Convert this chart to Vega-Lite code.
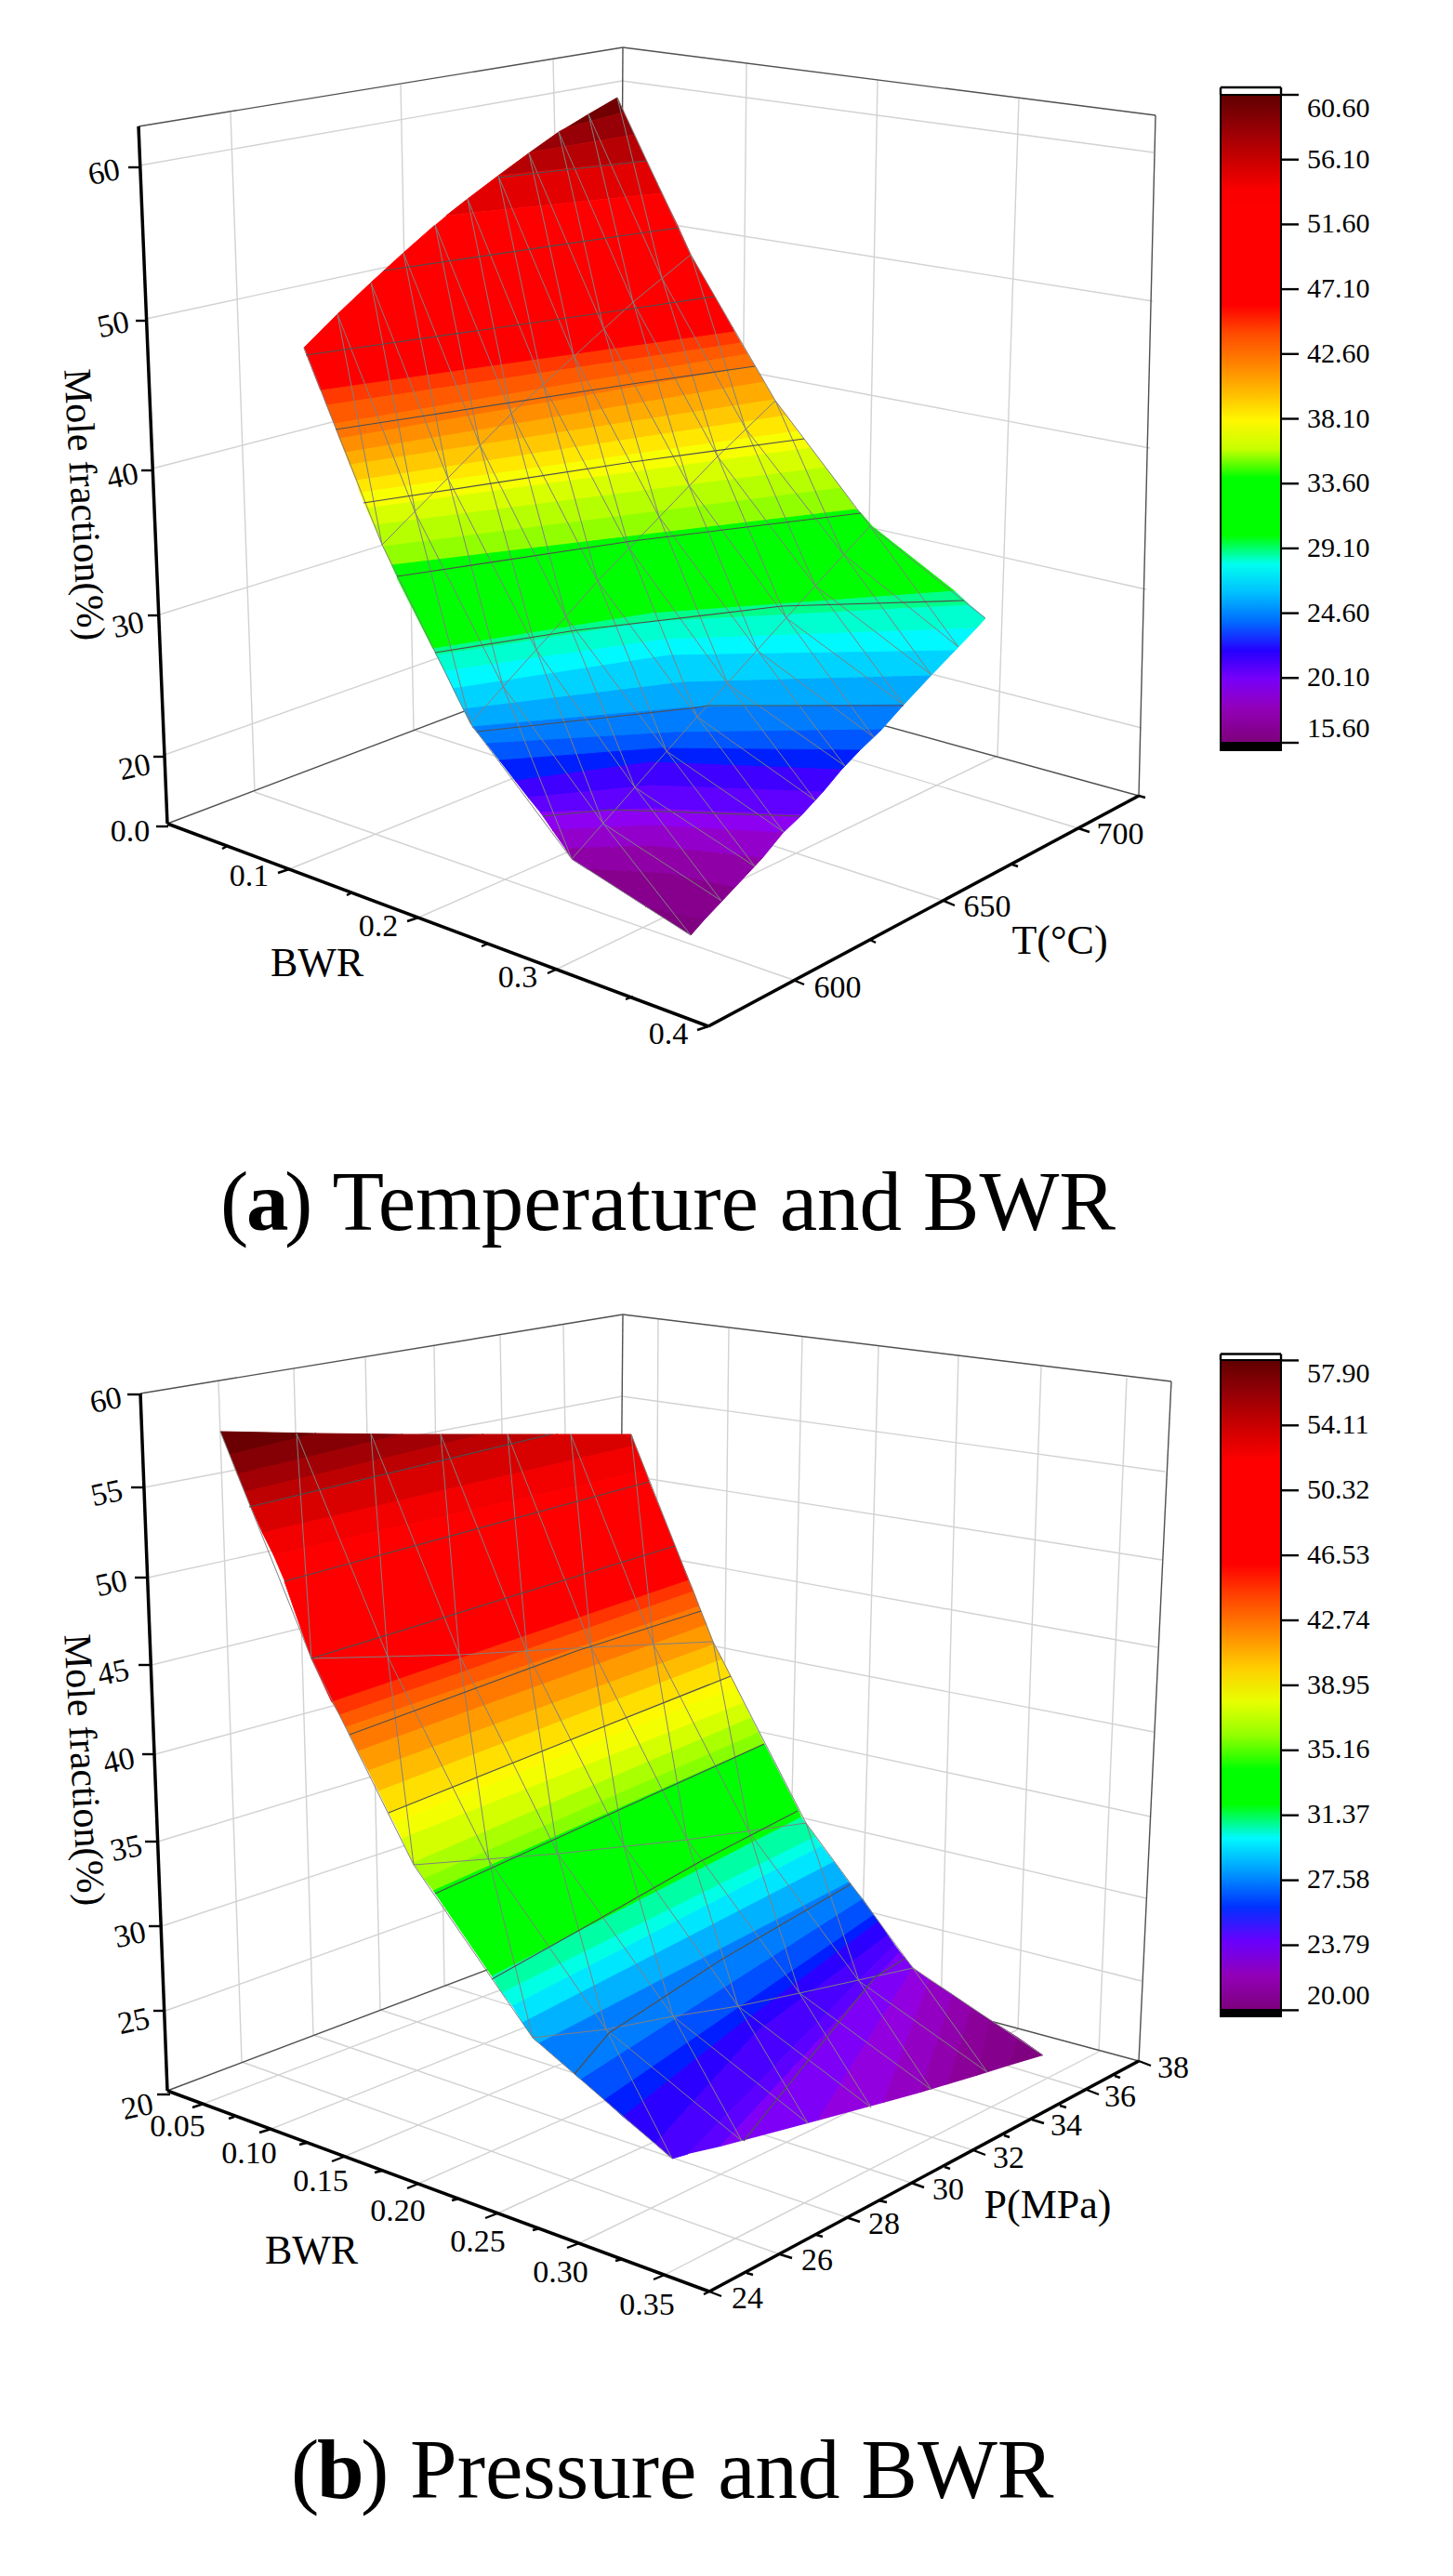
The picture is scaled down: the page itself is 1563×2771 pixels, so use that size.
{"$schema":"https://vega.github.io/schema/vega-lite/v6.json","autosize":"none","padding":0,"width":1563,"height":2771,"background":"white","config":{"view":{"stroke":null}},
"encoding":{"x":{"field":"x","type":"quantitative","axis":null,"scale":{"domain":[0,1563],"nice":false,"zero":false}},"y":{"field":"y","type":"quantitative","axis":null,"scale":{"domain":[0,2771],"reverse":true,"nice":false,"zero":false}}},
"resolve":{"scale":{"fill":"independent","stroke":"independent"}},
"layer":[
{"mark":{"type":"rule","stroke":"#d2d2d2","strokeWidth":1.4},"encoding":{"x2":{"field":"x2"},"y2":{"field":"y2"}},"data":{"values":[
{"x":248,"y":121,"x2":274,"y2":852},{"x":431,"y":91,"x2":445,"y2":785},{"x":595,"y":64,"x2":610,"y2":724},{"x":803,"y":68,"x2":796,"y2":738},{"x":944,"y":86,"x2":931,"y2":776},{"x":1096,"y":106,"x2":1073,"y2":813},
{"x":150,"y":178,"x2":669,"y2":87},{"x":157,"y":343,"x2":668,"y2":233},{"x":164,"y":504,"x2":667,"y2":374},{"x":172,"y":661,"x2":666,"y2":507},{"x":177,"y":812,"x2":665,"y2":639},
{"x":669,"y":87,"x2":1241,"y2":164},{"x":668,"y":233,"x2":1240,"y2":324},{"x":667,"y":374,"x2":1237,"y2":482},{"x":666,"y":507,"x2":1233,"y2":634},{"x":665,"y":639,"x2":1228,"y2":783},
{"x":311,"y":935,"x2":796,"y2":738},{"x":450,"y":987,"x2":931,"y2":776},{"x":600,"y":1042,"x2":1073,"y2":813},{"x":853,"y":1054,"x2":274,"y2":852},{"x":1015,"y":969,"x2":445,"y2":785},{"x":1160,"y":891,"x2":610,"y2":724},
{"x":235,"y":1486,"x2":260,"y2":2218},{"x":316,"y":1472,"x2":337,"y2":2189},{"x":393,"y":1459,"x2":409,"y2":2162},{"x":467,"y":1448,"x2":478,"y2":2135},{"x":538,"y":1436,"x2":551,"y2":2107},{"x":606,"y":1424,"x2":617,"y2":2081},
{"x":708,"y":1419,"x2":704,"y2":2077},{"x":784,"y":1429,"x2":776,"y2":2096},{"x":863,"y":1438,"x2":848,"y2":2116},{"x":945,"y":1448,"x2":926,"y2":2137},{"x":1031,"y":1457,"x2":1012,"y2":2163},{"x":1120,"y":1470,"x2":1095,"y2":2183},{"x":1212,"y":1482,"x2":1182,"y2":2207},
{"x":155,"y":1600,"x2":669,"y2":1502},{"x":159,"y":1697,"x2":668,"y2":1586},{"x":163,"y":1791,"x2":668,"y2":1667},{"x":167,"y":1887,"x2":667,"y2":1751},{"x":170,"y":1981,"x2":666,"y2":1830},{"x":174,"y":2072,"x2":665,"y2":1909},{"x":178,"y":2163,"x2":665,"y2":1988},
{"x":669,"y":1502,"x2":1253,"y2":1583},{"x":668,"y":1586,"x2":1250,"y2":1678},{"x":668,"y":1667,"x2":1245,"y2":1772},{"x":667,"y":1751,"x2":1241,"y2":1863},{"x":666,"y":1830,"x2":1237,"y2":1954},{"x":665,"y":1909,"x2":1233,"y2":2042},{"x":665,"y":1988,"x2":1228,"y2":2131},
{"x":219,"y":2263,"x2":704,"y2":2077},{"x":292,"y":2290,"x2":776,"y2":2096},{"x":370,"y":2320,"x2":848,"y2":2116},{"x":450,"y":2349,"x2":926,"y2":2137},{"x":535,"y":2381,"x2":1012,"y2":2163},{"x":623,"y":2413,"x2":1095,"y2":2183},{"x":715,"y":2447,"x2":1182,"y2":2207},
{"x":839,"y":2425,"x2":260,"y2":2218},{"x":910,"y":2385,"x2":337,"y2":2189},{"x":980,"y":2348,"x2":409,"y2":2162},{"x":1047,"y":2313,"x2":478,"y2":2135},{"x":1110,"y":2280,"x2":551,"y2":2107},{"x":1169,"y":2248,"x2":617,"y2":2081}]}},
{"mark":{"type":"rule","stroke":"#505050","strokeWidth":1.4},"encoding":{"x2":{"field":"x2"},"y2":{"field":"y2"}},"data":{"values":[
{"x":149,"y":136,"x2":670,"y2":51},{"x":670,"y":51,"x2":1243,"y2":124},{"x":670,"y":51,"x2":666,"y2":702},{"x":1243,"y":124,"x2":1225,"y2":856},{"x":180,"y":886,"x2":666,"y2":702},{"x":666,"y":702,"x2":1225,"y2":856},
{"x":151,"y":1499,"x2":670,"y2":1414},{"x":670,"y":1414,"x2":1260,"y2":1486},{"x":670,"y":1414,"x2":664,"y2":2066},{"x":1260,"y":1486,"x2":1225,"y2":2217},{"x":180,"y":2249,"x2":664,"y2":2066},{"x":664,"y":2066,"x2":1225,"y2":2217}]}},
{"mark":{"type":"line","order":null,"strokeWidth":1},"encoding":{
"fill":{"field":"z","type":"quantitative","scale":{"domain":[15.6,17,19.4,20.5,22.3,24.6,27.7,29.4,29.6,34,34.2,37.75,39.75,42,44.3,44.8,53.8,56.1,60.6],"range":["#7d007d","#8a0096","#9000f0","#6000ff","#0000ff","#0080ff","#00ffff","#00ff80","#00ff00","#00ff00","#80ff00","#ffff00","#ffc000","#ff8000","#ff4000","#ff0000","#ff0000","#c80000","#600000"]},"legend":{"type":"gradient","direction":"vertical","orient":"none","legendX":1313,"legendY":102,"title":null,"gradientLength":697,"gradientThickness":65,"values":[15.6,20.1,24.6,29.1,33.6,38.1,42.6,47.1,51.6,56.1,60.6],"format":".2f","labelFont":"Liberation Serif","labelFontSize":30,"labelOffset":28,"labelColor":"#000","labelOverlap":false,"encoding":{"labels":{"update":{"baseline":{"value":"middle"}}}},"gradientStrokeColor":"#000","gradientStrokeWidth":2}},
"stroke":{"field":"z","type":"quantitative","legend":null,"scale":{"domain":[15.5,17,19.4,20.5,22.3,24.6,27.7,29.4,29.6,34,34.2,37.75,39.75,42,44.3,44.8,53.8,56.1,60.6],"range":["#7d007d","#8a0096","#9000f0","#6000ff","#0000ff","#0080ff","#00ffff","#00ff80","#00ff00","#00ff00","#80ff00","#ffff00","#ffc000","#ff8000","#ff4000","#ff0000","#ff0000","#c80000","#600000"]}}},
"data":{"values":[
{"z":59.8,"x":610,"y":137},{"z":59.8,"x":633,"y":123},{"z":59.8,"x":664,"y":105},{"z":59.8,"x":671,"y":121},
{"z":58.2,"x":570,"y":164},{"z":58.2,"x":601,"y":142},{"z":58.2,"x":610,"y":137},{"z":58.2,"x":671,"y":121},{"z":58.2,"x":682,"y":145},
{"z":56.8,"x":536,"y":189},{"z":56.8,"x":570,"y":164},{"z":56.8,"x":682,"y":145},{"z":56.8,"x":695,"y":173},
{"z":55,"x":480,"y":232},{"z":55,"x":503,"y":214},{"z":55,"x":536,"y":189},{"z":55,"x":695,"y":173},{"z":55,"x":712,"y":208},
{"z":50,"x":480,"y":232},{"z":50,"x":712,"y":208},{"z":50,"x":729,"y":243},{"z":50,"x":743,"y":274},{"z":50,"x":768,"y":318},{"z":50,"x":790,"y":357},{"z":50,"x":345,"y":420},{"z":50,"x":327,"y":374},{"z":50,"x":363,"y":338},{"z":50,"x":399,"y":304},{"z":50,"x":434,"y":272},{"z":50,"x":468,"y":242},
{"z":44.4,"x":345,"y":420},{"z":44.4,"x":790,"y":357},{"z":44.4,"x":797,"y":369},{"z":44.4,"x":351,"y":436},
{"z":43.5,"x":351,"y":436},{"z":43.5,"x":797,"y":369},{"z":43.5,"x":804,"y":381},{"z":43.5,"x":359,"y":456},
{"z":42.5,"x":359,"y":456},{"z":42.5,"x":804,"y":381},{"z":42.5,"x":812,"y":394},{"z":42.5,"x":365,"y":472},
{"z":41.5,"x":365,"y":472},{"z":41.5,"x":812,"y":394},{"z":41.5,"x":822,"y":411},{"z":41.5,"x":371,"y":487},
{"z":40.5,"x":371,"y":487},{"z":40.5,"x":822,"y":411},{"z":40.5,"x":833,"y":430},{"z":40.5,"x":376,"y":500},
{"z":39.5,"x":376,"y":500},{"z":39.5,"x":833,"y":430},{"z":39.5,"x":846,"y":447},{"z":39.5,"x":383,"y":517},
{"z":38.5,"x":383,"y":517},{"z":38.5,"x":846,"y":447},{"z":38.5,"x":858,"y":464},{"z":38.5,"x":387,"y":530},
{"z":37.5,"x":387,"y":530},{"z":37.5,"x":858,"y":464},{"z":37.5,"x":872,"y":482},{"z":37.5,"x":394,"y":547},
{"z":36.5,"x":394,"y":547},{"z":36.5,"x":872,"y":482},{"z":36.5,"x":888,"y":503},{"z":36.5,"x":402,"y":565},
{"z":35.5,"x":402,"y":565},{"z":35.5,"x":888,"y":503},{"z":35.5,"x":905,"y":525},{"z":35.5,"x":412,"y":588},
{"z":34.6,"x":412,"y":588},{"z":34.6,"x":905,"y":525},{"z":34.6,"x":921,"y":548},{"z":34.6,"x":421,"y":608},
{"z":32,"x":421,"y":608},{"z":32,"x":921,"y":548},{"z":32,"x":926,"y":552},{"z":32,"x":938,"y":566},{"z":32,"x":1027,"y":636},{"z":32,"x":700,"y":660},{"z":32,"x":466,"y":698},{"z":32,"x":427,"y":621},
{"z":29.3,"x":466,"y":698},{"z":29.3,"x":700,"y":660},{"z":29.3,"x":1027,"y":636},{"z":29.3,"x":1043,"y":651},{"z":29.3,"x":700,"y":669},{"z":29.3,"x":469,"y":705},
{"z":28.5,"x":469,"y":705},{"z":28.5,"x":700,"y":669},{"z":28.5,"x":1043,"y":651},{"z":28.5,"x":1060,"y":665},{"z":28.5,"x":1050,"y":676},{"z":28.5,"x":715,"y":688},{"z":28.5,"x":478,"y":722},
{"z":27.5,"x":478,"y":722},{"z":27.5,"x":715,"y":688},{"z":27.5,"x":1050,"y":676},{"z":27.5,"x":1027,"y":700},{"z":27.5,"x":720,"y":705},{"z":27.5,"x":487,"y":741},
{"z":26.5,"x":487,"y":741},{"z":26.5,"x":720,"y":705},{"z":26.5,"x":1027,"y":700},{"z":26.5,"x":1001,"y":727},{"z":26.5,"x":735,"y":734},{"z":26.5,"x":498,"y":763},
{"z":25.5,"x":498,"y":763},{"z":25.5,"x":735,"y":734},{"z":25.5,"x":1001,"y":727},{"z":25.5,"x":972,"y":758},{"z":25.5,"x":742,"y":761},{"z":25.5,"x":508,"y":782},
{"z":24.5,"x":508,"y":782},{"z":24.5,"x":742,"y":761},{"z":24.5,"x":972,"y":758},{"z":24.5,"x":948,"y":785},{"z":24.5,"x":725,"y":788},{"z":24.5,"x":523,"y":800},
{"z":23.5,"x":523,"y":800},{"z":23.5,"x":725,"y":788},{"z":23.5,"x":948,"y":785},{"z":23.5,"x":925,"y":807},{"z":23.5,"x":710,"y":805},{"z":23.5,"x":537,"y":818},
{"z":22.5,"x":537,"y":818},{"z":22.5,"x":710,"y":805},{"z":22.5,"x":925,"y":807},{"z":22.5,"x":905,"y":828},{"z":22.5,"x":700,"y":820},{"z":22.5,"x":554,"y":840},
{"z":21.5,"x":554,"y":840},{"z":21.5,"x":700,"y":820},{"z":21.5,"x":905,"y":828},{"z":21.5,"x":885,"y":852},{"z":21.5,"x":700,"y":845},{"z":21.5,"x":568,"y":858},
{"z":20.5,"x":568,"y":858},{"z":20.5,"x":700,"y":845},{"z":20.5,"x":885,"y":852},{"z":20.5,"x":862,"y":877},{"z":20.5,"x":700,"y":870},{"z":20.5,"x":581,"y":874},
{"z":19.5,"x":581,"y":874},{"z":19.5,"x":700,"y":870},{"z":19.5,"x":862,"y":877},{"z":19.5,"x":842,"y":896},{"z":19.5,"x":700,"y":888},{"z":19.5,"x":594,"y":893},
{"z":18.5,"x":594,"y":893},{"z":18.5,"x":700,"y":888},{"z":18.5,"x":842,"y":896},{"z":18.5,"x":820,"y":923},{"z":18.5,"x":700,"y":910},{"z":18.5,"x":608,"y":913},
{"z":17.5,"x":608,"y":913},{"z":17.5,"x":700,"y":910},{"z":17.5,"x":820,"y":923},{"z":17.5,"x":790,"y":955},{"z":17.5,"x":720,"y":940},{"z":17.5,"x":632,"y":935},{"z":17.5,"x":615,"y":924},
{"z":16.5,"x":632,"y":935},{"z":16.5,"x":720,"y":940},{"z":16.5,"x":790,"y":955},{"z":16.5,"x":757,"y":990},{"z":16.5,"x":694,"y":975},
{"z":15.8,"x":694,"y":975},{"z":15.8,"x":757,"y":990},{"z":15.8,"x":743,"y":1006}]}},
{"mark":{"type":"line","order":null,"strokeWidth":1},"encoding":{
"fill":{"field":"z","type":"quantitative","scale":{"domain":[20,21.18,23.2,24.13,25.64,27.58,30.18,31.62,31.79,35.5,35.66,38.65,40.34,42.23,44.17,44.59,52.17,54.11,57.9],"range":["#7d007d","#8a0096","#9000f0","#6000ff","#0000ff","#0080ff","#00ffff","#00ff80","#00ff00","#00ff00","#80ff00","#ffff00","#ffc000","#ff8000","#ff4000","#ff0000","#ff0000","#c80000","#600000"]},"legend":{"type":"gradient","direction":"vertical","orient":"none","legendX":1313,"legendY":1463,"title":null,"gradientLength":699,"gradientThickness":65,"values":[20,23.79,27.58,31.37,35.16,38.95,42.74,46.53,50.32,54.11,57.9],"format":".2f","labelFont":"Liberation Serif","labelFontSize":30,"labelOffset":28,"labelColor":"#000","labelOverlap":false,"encoding":{"labels":{"update":{"baseline":{"value":"middle"}}}},"gradientStrokeColor":"#000","gradientStrokeWidth":2}},
"stroke":{"field":"z","type":"quantitative","legend":null,"scale":{"domain":[19.9,21.18,23.2,24.13,25.64,27.58,30.18,31.62,31.79,35.5,35.66,38.65,40.34,42.23,44.17,44.59,52.17,54.11,57.9],"range":["#7d007d","#8a0096","#9000f0","#6000ff","#0000ff","#0080ff","#00ffff","#00ff80","#00ff00","#00ff00","#80ff00","#ffff00","#ffc000","#ff8000","#ff4000","#ff0000","#ff0000","#c80000","#600000"]}}},
"data":{"values":[
{"z":57.5,"x":237,"y":1540},{"z":57.5,"x":340,"y":1542},{"z":57.5,"x":247,"y":1565},
{"z":56.5,"x":247,"y":1565},{"z":56.5,"x":340,"y":1542},{"z":56.5,"x":433,"y":1543},{"z":56.5,"x":255,"y":1586},
{"z":55.5,"x":255,"y":1586},{"z":55.5,"x":433,"y":1543},{"z":55.5,"x":520,"y":1543},{"z":55.5,"x":263,"y":1605},
{"z":54.5,"x":263,"y":1605},{"z":54.5,"x":520,"y":1543},{"z":54.5,"x":600,"y":1543},{"z":54.5,"x":270,"y":1622},
{"z":53.5,"x":270,"y":1622},{"z":53.5,"x":600,"y":1543},{"z":53.5,"x":679,"y":1543},{"z":53.5,"x":683,"y":1555},{"z":53.5,"x":282,"y":1649},
{"z":52.6,"x":282,"y":1649},{"z":52.6,"x":683,"y":1555},{"z":52.6,"x":694,"y":1582},{"z":52.6,"x":294,"y":1673},
{"z":48,"x":294,"y":1673},{"z":48,"x":694,"y":1582},{"z":48,"x":698,"y":1594},{"z":48,"x":726,"y":1663},{"z":48,"x":741,"y":1700},{"z":48,"x":357,"y":1831},{"z":48,"x":335,"y":1784},{"z":48,"x":306,"y":1701},
{"z":44.3,"x":357,"y":1831},{"z":44.3,"x":741,"y":1700},{"z":44.3,"x":746,"y":1712},{"z":44.3,"x":365,"y":1845},
{"z":43.5,"x":365,"y":1845},{"z":43.5,"x":746,"y":1712},{"z":43.5,"x":752,"y":1728},{"z":43.5,"x":372,"y":1858},
{"z":42.5,"x":372,"y":1858},{"z":42.5,"x":752,"y":1728},{"z":42.5,"x":760,"y":1748},{"z":42.5,"x":385,"y":1884},
{"z":41.5,"x":385,"y":1884},{"z":41.5,"x":760,"y":1748},{"z":41.5,"x":768,"y":1769},{"z":41.5,"x":396,"y":1905},
{"z":40.5,"x":396,"y":1905},{"z":40.5,"x":768,"y":1769},{"z":40.5,"x":777,"y":1785},{"z":40.5,"x":407,"y":1927},
{"z":39.5,"x":407,"y":1927},{"z":39.5,"x":777,"y":1785},{"z":39.5,"x":786,"y":1803},{"z":39.5,"x":418,"y":1950},
{"z":38.8,"x":418,"y":1950},{"z":38.8,"x":786,"y":1803},{"z":38.8,"x":792,"y":1815},{"z":38.8,"x":424,"y":1961},
{"z":38.3,"x":424,"y":1961},{"z":38.3,"x":792,"y":1815},{"z":38.3,"x":800,"y":1832},{"z":38.3,"x":432,"y":1978},
{"z":37.5,"x":432,"y":1978},{"z":37.5,"x":800,"y":1832},{"z":37.5,"x":808,"y":1848},{"z":37.5,"x":444,"y":2004},
{"z":36.5,"x":444,"y":2004},{"z":36.5,"x":808,"y":1848},{"z":36.5,"x":816,"y":1864},{"z":36.5,"x":456,"y":2021},
{"z":35.8,"x":456,"y":2021},{"z":35.8,"x":816,"y":1864},{"z":35.8,"x":822,"y":1876},{"z":35.8,"x":466,"y":2034},
{"z":33.5,"x":466,"y":2034},{"z":33.5,"x":822,"y":1876},{"z":33.5,"x":859,"y":1948},{"z":33.5,"x":862,"y":1955},{"z":33.5,"x":529,"y":2126},
{"z":31.3,"x":529,"y":2126},{"z":31.3,"x":862,"y":1955},{"z":31.3,"x":877,"y":1976},{"z":31.3,"x":540,"y":2144},
{"z":30.6,"x":540,"y":2144},{"z":30.6,"x":877,"y":1976},{"z":30.6,"x":884,"y":1986},{"z":30.6,"x":551,"y":2158},
{"z":29.6,"x":551,"y":2158},{"z":29.6,"x":884,"y":1986},{"z":29.6,"x":897,"y":2003},{"z":29.6,"x":562,"y":2176},
{"z":28.5,"x":562,"y":2176},{"z":28.5,"x":897,"y":2003},{"z":28.5,"x":913,"y":2025},{"z":28.5,"x":580,"y":2198},{"z":28.5,"x":573,"y":2192},
{"z":27.5,"x":580,"y":2198},{"z":27.5,"x":913,"y":2025},{"z":27.5,"x":928,"y":2043},{"z":27.5,"x":625,"y":2237},{"z":27.5,"x":618,"y":2231},
{"z":26.5,"x":625,"y":2237},{"z":26.5,"x":928,"y":2043},{"z":26.5,"x":940,"y":2060},{"z":26.5,"x":650,"y":2259},
{"z":25.8,"x":650,"y":2259},{"z":25.8,"x":940,"y":2060},{"z":25.8,"x":945,"y":2067},{"z":25.8,"x":793,"y":2180},{"z":25.8,"x":670,"y":2277},
{"z":25.3,"x":670,"y":2277},{"z":25.3,"x":793,"y":2180},{"z":25.3,"x":945,"y":2067},{"z":25.3,"x":955,"y":2082},{"z":25.3,"x":815,"y":2185},{"z":25.3,"x":705,"y":2306},
{"z":24.75,"x":705,"y":2306},{"z":24.75,"x":815,"y":2185},{"z":24.75,"x":955,"y":2082},{"z":24.75,"x":962,"y":2092},{"z":24.75,"x":740,"y":2317},{"z":24.75,"x":723,"y":2322},
{"z":24.25,"x":740,"y":2317},{"z":24.25,"x":962,"y":2092},{"z":24.25,"x":968,"y":2100},{"z":24.25,"x":775,"y":2309},
{"z":23.6,"x":775,"y":2309},{"z":23.6,"x":968,"y":2100},{"z":23.6,"x":982,"y":2117},{"z":23.6,"x":880,"y":2281},
{"z":22.85,"x":880,"y":2281},{"z":22.85,"x":982,"y":2117},{"z":22.85,"x":1000,"y":2130},{"z":22.85,"x":950,"y":2262},
{"z":22.25,"x":950,"y":2262},{"z":22.25,"x":1000,"y":2130},{"z":22.25,"x":1025,"y":2146},{"z":22.25,"x":990,"y":2251},
{"z":21.75,"x":990,"y":2251},{"z":21.75,"x":1025,"y":2146},{"z":21.75,"x":1045,"y":2160},{"z":21.75,"x":1020,"y":2242},
{"z":21.25,"x":1020,"y":2242},{"z":21.25,"x":1045,"y":2160},{"z":21.25,"x":1065,"y":2173},{"z":21.25,"x":1050,"y":2233},
{"z":20.75,"x":1050,"y":2233},{"z":20.75,"x":1065,"y":2173},{"z":20.75,"x":1095,"y":2192},{"z":20.75,"x":1085,"y":2222},
{"z":20.25,"x":1085,"y":2222},{"z":20.25,"x":1095,"y":2192},{"z":20.25,"x":1122,"y":2211}]}},
{"mark":{"type":"line","order":null,"stroke":"#808080","strokeWidth":1},"encoding":{"detail":{"field":"id"}},"data":{"values":[
{"id":"t0","x":327,"y":374},{"id":"t0","x":411,"y":586},{"id":"t0","x":506,"y":778},{"id":"t0","x":615,"y":924},{"id":"t0","x":743,"y":1006},
{"id":"t1","x":363,"y":338},{"id":"t1","x":447,"y":552},{"id":"t1","x":541,"y":738},{"id":"t1","x":649,"y":886},{"id":"t1","x":776,"y":969},
{"id":"t2","x":399,"y":304},{"id":"t2","x":482,"y":515},{"id":"t2","x":577,"y":699},{"id":"t2","x":683,"y":847},{"id":"t2","x":812,"y":932},
{"id":"t3","x":434,"y":272},{"id":"t3","x":516,"y":478},{"id":"t3","x":609,"y":664},{"id":"t3","x":717,"y":808},{"id":"t3","x":843,"y":895},
{"id":"t4","x":468,"y":242},{"id":"t4","x":550,"y":445},{"id":"t4","x":643,"y":625},{"id":"t4","x":750,"y":771},{"id":"t4","x":877,"y":861},
{"id":"t5","x":503,"y":214},{"id":"t5","x":584,"y":413},{"id":"t5","x":677,"y":590},{"id":"t5","x":783,"y":736},{"id":"t5","x":909,"y":824},
{"id":"t6","x":536,"y":189},{"id":"t6","x":617,"y":382},{"id":"t6","x":709,"y":556},{"id":"t6","x":815,"y":700},{"id":"t6","x":940,"y":793},
{"id":"t7","x":569,"y":165},{"id":"t7","x":649,"y":352},{"id":"t7","x":741,"y":522},{"id":"t7","x":846,"y":665},{"id":"t7","x":972,"y":758},
{"id":"t8","x":601,"y":142},{"id":"t8","x":681,"y":325},{"id":"t8","x":772,"y":491},{"id":"t8","x":877,"y":630},{"id":"t8","x":1002,"y":726},
{"id":"t9","x":633,"y":123},{"id":"t9","x":712,"y":299},{"id":"t9","x":802,"y":461},{"id":"t9","x":907,"y":596},{"id":"t9","x":1031,"y":696},
{"id":"t10","x":664,"y":105},{"id":"t10","x":743,"y":274},{"id":"t10","x":834,"y":431},{"id":"t10","x":936,"y":566},{"id":"t10","x":1060,"y":665},
{"id":"d1","x":363,"y":338},{"id":"d1","x":411,"y":586},
{"id":"d2","x":399,"y":304},{"id":"d2","x":447,"y":552},{"id":"d2","x":506,"y":778},
{"id":"d3","x":434,"y":272},{"id":"d3","x":482,"y":515},{"id":"d3","x":541,"y":738},{"id":"d3","x":615,"y":924},
{"id":"d4","x":468,"y":242},{"id":"d4","x":516,"y":478},{"id":"d4","x":577,"y":699},{"id":"d4","x":649,"y":886},{"id":"d4","x":743,"y":1006},
{"id":"d5","x":503,"y":214},{"id":"d5","x":550,"y":445},{"id":"d5","x":609,"y":664},{"id":"d5","x":683,"y":847},{"id":"d5","x":776,"y":969},
{"id":"d6","x":536,"y":189},{"id":"d6","x":584,"y":413},{"id":"d6","x":643,"y":625},{"id":"d6","x":717,"y":808},{"id":"d6","x":812,"y":932},
{"id":"d7","x":569,"y":165},{"id":"d7","x":617,"y":382},{"id":"d7","x":677,"y":590},{"id":"d7","x":750,"y":771},{"id":"d7","x":843,"y":895},
{"id":"d8","x":601,"y":142},{"id":"d8","x":649,"y":352},{"id":"d8","x":709,"y":556},{"id":"d8","x":783,"y":736},{"id":"d8","x":877,"y":861},
{"id":"d9","x":633,"y":123},{"id":"d9","x":681,"y":325},{"id":"d9","x":741,"y":522},{"id":"d9","x":815,"y":700},{"id":"d9","x":909,"y":824},
{"id":"d10","x":664,"y":105},{"id":"d10","x":712,"y":299},{"id":"d10","x":772,"y":491},{"id":"d10","x":846,"y":665},{"id":"d10","x":940,"y":793},
{"id":"d11","x":743,"y":274},{"id":"d11","x":802,"y":461},{"id":"d11","x":877,"y":630},{"id":"d11","x":972,"y":758},
{"id":"d12","x":834,"y":431},{"id":"d12","x":907,"y":596},{"id":"d12","x":1002,"y":726},
{"id":"d13","x":936,"y":566},{"id":"d13","x":1031,"y":696},
{"id":"g1","x":411,"y":586},{"id":"g1","x":550,"y":445},{"id":"g1","x":681,"y":325},{"id":"g1","x":743,"y":274},
{"id":"g2","x":506,"y":778},{"id":"g2","x":643,"y":625},{"id":"g2","x":772,"y":491},{"id":"g2","x":834,"y":431},
{"id":"g3","x":615,"y":924},{"id":"g3","x":750,"y":771},{"id":"g3","x":877,"y":630},{"id":"g3","x":936,"y":566},
{"id":"B0","x":237,"y":1540},{"id":"B0","x":335,"y":1784},{"id":"B0","x":445,"y":2006},{"id":"B0","x":573,"y":2192},{"id":"B0","x":723,"y":2322},
{"id":"B1","x":319,"y":1542},{"id":"B1","x":417,"y":1782},{"id":"B1","x":526,"y":2001},{"id":"B1","x":652,"y":2183},{"id":"B1","x":798,"y":2303},
{"id":"B2","x":399,"y":1542},{"id":"B2","x":494,"y":1780},{"id":"B2","x":600,"y":1994},{"id":"B2","x":724,"y":2169},{"id":"B2","x":869,"y":2284},
{"id":"B3","x":474,"y":1543},{"id":"B3","x":567,"y":1778},{"id":"B3","x":671,"y":1985},{"id":"B3","x":794,"y":2158},{"id":"B3","x":937,"y":2267},
{"id":"B4","x":546,"y":1543},{"id":"B4","x":636,"y":1772},{"id":"B4","x":739,"y":1979},{"id":"B4","x":860,"y":2144},{"id":"B4","x":1002,"y":2248},
{"id":"B5","x":614,"y":1543},{"id":"B5","x":703,"y":1769},{"id":"B5","x":806,"y":1971},{"id":"B5","x":924,"y":2131},{"id":"B5","x":1062,"y":2229},
{"id":"B6","x":679,"y":1543},{"id":"B6","x":767,"y":1766},{"id":"B6","x":867,"y":1961},{"id":"B6","x":982,"y":2117},{"id":"B6","x":1122,"y":2211},
{"id":"E1","x":319,"y":1542},{"id":"E1","x":335,"y":1784},
{"id":"E2","x":399,"y":1542},{"id":"E2","x":417,"y":1782},{"id":"E2","x":445,"y":2006},
{"id":"E3","x":474,"y":1543},{"id":"E3","x":494,"y":1780},{"id":"E3","x":526,"y":2001},{"id":"E3","x":573,"y":2192},
{"id":"E4","x":546,"y":1543},{"id":"E4","x":567,"y":1778},{"id":"E4","x":600,"y":1994},{"id":"E4","x":652,"y":2183},{"id":"E4","x":723,"y":2322},
{"id":"E5","x":614,"y":1543},{"id":"E5","x":636,"y":1772},{"id":"E5","x":671,"y":1985},{"id":"E5","x":724,"y":2169},{"id":"E5","x":798,"y":2303},
{"id":"E6","x":679,"y":1543},{"id":"E6","x":703,"y":1769},{"id":"E6","x":739,"y":1979},{"id":"E6","x":794,"y":2158},{"id":"E6","x":869,"y":2284},
{"id":"E7","x":767,"y":1766},{"id":"E7","x":806,"y":1971},{"id":"E7","x":860,"y":2144},{"id":"E7","x":937,"y":2267},
{"id":"E8","x":867,"y":1961},{"id":"E8","x":924,"y":2131},{"id":"E8","x":1002,"y":2248},
{"id":"E9","x":982,"y":2117},{"id":"E9","x":1062,"y":2229},
{"id":"G1","x":335,"y":1784},{"id":"G1","x":494,"y":1780},{"id":"G1","x":636,"y":1772},{"id":"G1","x":767,"y":1766},
{"id":"G2","x":445,"y":2006},{"id":"G2","x":600,"y":1994},{"id":"G2","x":739,"y":1979},{"id":"G2","x":867,"y":1961},
{"id":"G3","x":573,"y":2192},{"id":"G3","x":652,"y":2183},{"id":"G3","x":724,"y":2169},{"id":"G3","x":794,"y":2158},{"id":"G3","x":860,"y":2144},{"id":"G3","x":982,"y":2117}]}},
{"mark":{"type":"line","order":null,"stroke":"#505050","strokeWidth":1.2},"encoding":{"detail":{"field":"id"}},"data":{"values":[
{"id":"L1","x":536,"y":191},{"id":"L1","x":695,"y":173},
{"id":"L2","x":413,"y":291},{"id":"L2","x":680,"y":252},{"id":"L2","x":730,"y":245},
{"id":"L3","x":329,"y":382},{"id":"L3","x":680,"y":332},{"id":"L3","x":768,"y":319},
{"id":"L4","x":361,"y":462},{"id":"L4","x":680,"y":413},{"id":"L4","x":812,"y":394},
{"id":"L5","x":391,"y":541},{"id":"L5","x":680,"y":497},{"id":"L5","x":865,"y":472},
{"id":"L6","x":427,"y":620},{"id":"L6","x":680,"y":582},{"id":"L6","x":926,"y":552},
{"id":"L7","x":468,"y":702},{"id":"L7","x":620,"y":678},{"id":"L7","x":841,"y":652},{"id":"L7","x":1037,"y":646},
{"id":"L8","x":513,"y":787},{"id":"L8","x":743,"y":762},{"id":"L8","x":762,"y":759},{"id":"L8","x":972,"y":759},
{"id":"L9","x":584,"y":878},{"id":"L9","x":656,"y":871},{"id":"L9","x":861,"y":878},
{"id":"D1","x":268,"y":1621},{"id":"D1","x":592,"y":1543},
{"id":"D2","x":306,"y":1701},{"id":"D2","x":698,"y":1594},
{"id":"D3","x":335,"y":1784},{"id":"D3","x":726,"y":1663},
{"id":"D4","x":376,"y":1866},{"id":"D4","x":620,"y":1776},{"id":"D4","x":754,"y":1733},
{"id":"D5","x":418,"y":1950},{"id":"D5","x":620,"y":1869},{"id":"D5","x":786,"y":1803},
{"id":"D6","x":468,"y":2037},{"id":"D6","x":822,"y":1876},
{"id":"D7","x":529,"y":2129},{"id":"D7","x":622,"y":2077},{"id":"D7","x":754,"y":2002},{"id":"D7","x":858,"y":1948},
{"id":"D8","x":618,"y":2231},{"id":"D8","x":655,"y":2187},{"id":"D8","x":776,"y":2108},{"id":"D8","x":915,"y":2027},
{"id":"D9","x":800,"y":2303},{"id":"D9","x":941,"y":2127},{"id":"D9","x":973,"y":2107}]}},
{"mark":{"type":"rule","stroke":"#000","strokeWidth":3.5},"encoding":{"x2":{"field":"x2"},"y2":{"field":"y2"}},"data":{"values":[
{"x":149,"y":136,"x2":180,"y2":886},{"x":180,"y":886,"x2":762,"y2":1104},{"x":762,"y":1104,"x2":1225,"y2":856},
{"x":151,"y":1499,"x2":180,"y2":2249},{"x":180,"y":2249,"x2":763,"y2":2465},{"x":763,"y":2465,"x2":1225,"y2":2217}]}},
{"mark":{"type":"rule","stroke":"#000","strokeWidth":2.4},"encoding":{"x2":{"field":"x2"},"y2":{"field":"y2"}},"data":{"values":[
{"x":138,"y":180,"x2":150,"y2":180},{"x":146,"y":345,"x2":157,"y2":345},{"x":152,"y":506,"x2":165,"y2":506},{"x":159,"y":662,"x2":172,"y2":662},{"x":165,"y":814,"x2":177,"y2":814},{"x":168,"y":889,"x2":181,"y2":889},
{"x":311,"y":935,"x2":299,"y2":939},{"x":450,"y":987,"x2":438,"y2":991},{"x":600,"y":1042,"x2":589,"y2":1047},{"x":762,"y":1104,"x2":750,"y2":1108},{"x":245,"y":910,"x2":239,"y2":913},{"x":379,"y":960,"x2":373,"y2":963},{"x":525,"y":1015,"x2":518,"y2":1018},{"x":681,"y":1072,"x2":673,"y2":1075},
{"x":853,"y":1054,"x2":865,"y2":1059},{"x":1015,"y":969,"x2":1027,"y2":974},{"x":1160,"y":891,"x2":1172,"y2":895},{"x":936,"y":1011,"x2":942,"y2":1014},{"x":1089,"y":930,"x2":1095,"y2":932},{"x":1225,"y":856,"x2":1232,"y2":858},
{"x":137,"y":1500,"x2":151,"y2":1500},{"x":141,"y":1600,"x2":155,"y2":1600},{"x":145,"y":1697,"x2":159,"y2":1697},{"x":149,"y":1791,"x2":163,"y2":1791},{"x":153,"y":1887,"x2":167,"y2":1887},{"x":156,"y":1981,"x2":170,"y2":1981},{"x":160,"y":2072,"x2":174,"y2":2072},{"x":165,"y":2163,"x2":178,"y2":2163},{"x":169,"y":2253,"x2":183,"y2":2253},
{"x":219,"y":2263,"x2":207,"y2":2267},{"x":292,"y":2290,"x2":279,"y2":2294},{"x":370,"y":2320,"x2":357,"y2":2325},{"x":450,"y":2349,"x2":438,"y2":2354},{"x":535,"y":2381,"x2":522,"y2":2386},{"x":623,"y":2413,"x2":610,"y2":2418},{"x":715,"y":2447,"x2":703,"y2":2452},{"x":763,"y":2465,"x2":757,"y2":2468},
{"x":252,"y":2277,"x2":246,"y2":2279},{"x":330,"y":2305,"x2":322,"y2":2307},{"x":411,"y":2335,"x2":403,"y2":2337},{"x":494,"y":2365,"x2":486,"y2":2367},{"x":581,"y":2397,"x2":573,"y2":2399},{"x":670,"y":2430,"x2":662,"y2":2432},
{"x":763,"y":2465,"x2":776,"y2":2470},{"x":839,"y":2425,"x2":852,"y2":2429},{"x":910,"y":2385,"x2":925,"y2":2390},{"x":980,"y":2348,"x2":994,"y2":2353},{"x":1047,"y":2313,"x2":1060,"y2":2318},{"x":1110,"y":2280,"x2":1123,"y2":2284},{"x":1169,"y":2248,"x2":1182,"y2":2253},{"x":1225,"y":2217,"x2":1238,"y2":2222},
{"x":803,"y":2445,"x2":810,"y2":2447},{"x":878,"y":2404,"x2":885,"y2":2406},{"x":945,"y":2367,"x2":954,"y2":2369},{"x":1016,"y":2331,"x2":1022,"y2":2333},{"x":1080,"y":2297,"x2":1086,"y2":2299},{"x":1140,"y":2265,"x2":1147,"y2":2267},{"x":1199,"y":2233,"x2":1205,"y2":2235},
{"x":1378,"y":102,"x2":1397,"y2":102},{"x":1378,"y":171.7,"x2":1397,"y2":171.7},{"x":1378,"y":241.4,"x2":1397,"y2":241.4},{"x":1378,"y":311.1,"x2":1397,"y2":311.1},{"x":1378,"y":380.8,"x2":1397,"y2":380.8},{"x":1378,"y":450.5,"x2":1397,"y2":450.5},{"x":1378,"y":520.2,"x2":1397,"y2":520.2},{"x":1378,"y":589.9,"x2":1397,"y2":589.9},{"x":1378,"y":659.6,"x2":1397,"y2":659.6},{"x":1378,"y":729.3,"x2":1397,"y2":729.3},{"x":1378,"y":799,"x2":1397,"y2":799},
{"x":1378,"y":1463.4,"x2":1397,"y2":1463.4},{"x":1378,"y":1533.3,"x2":1397,"y2":1533.3},{"x":1378,"y":1603.2,"x2":1397,"y2":1603.2},{"x":1378,"y":1673.1,"x2":1397,"y2":1673.1},{"x":1378,"y":1743,"x2":1397,"y2":1743},{"x":1378,"y":1812.9,"x2":1397,"y2":1812.9},{"x":1378,"y":1882.8,"x2":1397,"y2":1882.8},{"x":1378,"y":1952.7,"x2":1397,"y2":1952.7},{"x":1378,"y":2022.6,"x2":1397,"y2":2022.6},{"x":1378,"y":2092.5,"x2":1397,"y2":2092.5},{"x":1378,"y":2162.4,"x2":1397,"y2":2162.4},
{"x":1313,"y":94,"x2":1378,"y2":94},{"x":1313,"y":94,"x2":1313,"y2":102},{"x":1378,"y":94,"x2":1378,"y2":102},
{"x":1313,"y":1456.5,"x2":1378,"y2":1456.5},{"x":1313,"y":1456.5,"x2":1313,"y2":1463},{"x":1378,"y":1456.5,"x2":1378,"y2":1463}]}},
{"mark":{"type":"rect","fill":"#000"},"encoding":{"x2":{"field":"x2"},"y2":{"field":"y2"}},"data":{"values":[{"x":1312,"y":799,"x2":1379,"y2":808},{"x":1312,"y":2162,"x2":1379,"y2":2170}]}},
{"mark":{"type":"text","font":"Liberation Serif","fontSize":34,"align":"center","baseline":"middle","fill":"#000"},"encoding":{"text":{"field":"t"}},"data":{"values":[
{"x":140,"y":895,"t":"0.0"},{"x":268,"y":943,"t":"0.1"},{"x":407,"y":997,"t":"0.2"},{"x":557,"y":1052,"t":"0.3"},{"x":719,"y":1113,"t":"0.4"},{"x":901,"y":1063,"t":"600"},{"x":1062,"y":976,"t":"650"},{"x":1205,"y":898,"t":"700"},
{"x":191,"y":2288,"t":"0.05"},{"x":268,"y":2317,"t":"0.10"},{"x":345,"y":2347,"t":"0.15"},{"x":428,"y":2379,"t":"0.20"},{"x":514,"y":2412,"t":"0.25"},{"x":603,"y":2445,"t":"0.30"},{"x":696,"y":2480,"t":"0.35"},
{"x":804,"y":2473,"t":"24"},{"x":879,"y":2432,"t":"26"},{"x":951,"y":2393,"t":"28"},{"x":1020,"y":2356,"t":"30"},{"x":1085,"y":2322,"t":"32"},{"x":1147,"y":2287,"t":"34"},{"x":1205,"y":2256,"t":"36"},{"x":1262,"y":2225,"t":"38"}]}},
{"mark":{"type":"text","font":"Liberation Serif","fontSize":34,"align":"center","baseline":"middle","fill":"#000","angle":348},"encoding":{"text":{"field":"t"}},"data":{"values":[
{"x":112,"y":186,"t":"60"},{"x":122,"y":350,"t":"50"},{"x":132,"y":513,"t":"40"},{"x":138,"y":673,"t":"30"},{"x":145,"y":826,"t":"20"},
{"x":114,"y":1507,"t":"60"},{"x":115,"y":1607,"t":"55"},{"x":120,"y":1704,"t":"50"},{"x":122,"y":1800,"t":"45"},{"x":128,"y":1895,"t":"40"},{"x":136,"y":1989,"t":"35"},{"x":140,"y":2082,"t":"30"},{"x":144,"y":2175,"t":"25"},{"x":148,"y":2267,"t":"20"}]}},
{"mark":{"type":"text","font":"Liberation Serif","fontSize":44,"align":"center","baseline":"middle","fill":"#000"},"encoding":{"text":{"field":"t"}},"data":{"values":[{"x":341,"y":1037,"t":"BWR"},{"x":1140,"y":1013,"t":"T(°C)"},{"x":335,"y":2422,"t":"BWR"},{"x":1127,"y":2373,"t":"P(MPa)"}]}},
{"mark":{"type":"text","font":"Liberation Serif","fontSize":42,"align":"center","baseline":"middle","fill":"#000","angle":87},"encoding":{"text":{"field":"t"}},"data":{"values":[{"x":90,"y":543,"t":"Mole fraction(%)"},{"x":90,"y":1904,"t":"Mole fraction(%)"}]}},
{"mark":{"type":"text","font":"Liberation Serif","fontSize":91,"align":"left","baseline":"alphabetic","fill":"#000"},"encoding":{"text":{"field":"t"}},"data":{"values":[{"x":237,"y":1323,"t":"("},{"x":306,"y":1323,"t":") Temperature and BWR"},{"x":313,"y":2687,"t":"("},{"x":388,"y":2687,"t":") Pressure and BWR"}]}},
{"mark":{"type":"text","font":"Liberation Serif","fontSize":91,"fontWeight":"bold","align":"left","baseline":"alphabetic","fill":"#000"},"encoding":{"text":{"field":"t"}},"data":{"values":[{"x":265,"y":1323,"t":"a"},{"x":341,"y":2687,"t":"b"}]}}
]}
